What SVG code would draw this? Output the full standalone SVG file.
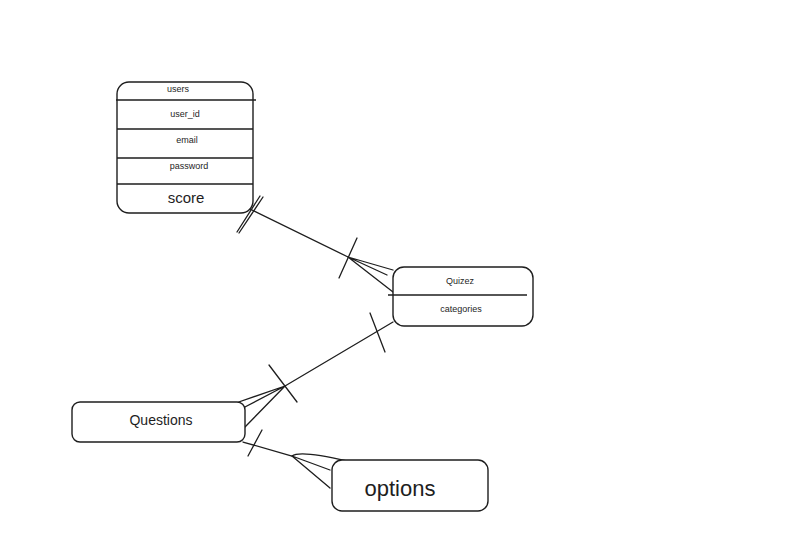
<svg xmlns="http://www.w3.org/2000/svg" width="803" height="544" viewBox="0 0 803 544">
  <defs>
    <style>
      .box { fill: #ffffff; stroke: #1e1e1e; stroke-width: 1.4; }
      .rule { stroke: #1e1e1e; stroke-width: 1.6; fill: none; }
      .edge { stroke: #1e1e1e; stroke-width: 1.3; fill: none; stroke-linecap: round; }
      .lbl { font-family: "Liberation Sans", Arial, sans-serif; fill: #1e1e1e; text-anchor: middle; dominant-baseline: central; }
      .sm { font-size: 9px; }
    </style>
  </defs>
  <rect width="803" height="544" fill="#ffffff"/>

  <!-- connectors -->
  <g id="connectors">
    <!-- users to Quizez -->
    <path class="edge" d="M250 209 L348 257"/>
    <path class="edge" d="M348 257 L393 270 M348 257 L387 275 M348 257 L393 292"/>
    <path class="edge" d="M263 197 L239 233 M260 196 L237 232"/>
    <path class="edge" d="M357 238 L339 278"/>
    <!-- Questions to Quizez -->
    <path class="edge" d="M393 322 L285 386"/>
    <path class="edge" d="M285 386 L233 404 M285 386 L243 408 M285 386 L245 427"/>
    <path class="edge" d="M370 313 L385 352"/>
    <path class="edge" d="M269 365 L297 402"/>
    <!-- Questions to options -->
    <path class="edge" d="M243 442 L292 456"/>
    <path class="edge" d="M262 430 L248 456"/>
    <path class="edge" d="M292 456 Q300 450 347 461 M292 456 L330 470 M292 456 L330 488"/>
  </g>

  <!-- users table -->
  <g id="users">
    <rect class="box" x="117" y="82" width="136" height="131" rx="12"/>
    <path class="rule" d="M116 100 L256 100 M117 129 L253 129 M117 158 L253 158 M117 184 L253 184"/>
    <text class="lbl sm" x="178" y="89">users</text>
    <text class="lbl sm" x="185" y="114">user_id</text>
    <text class="lbl sm" x="187" y="140">email</text>
    <text class="lbl sm" x="189" y="166">password</text>
    <text class="lbl" x="186" y="197" font-size="15">score</text>
  </g>

  <!-- Quizez table -->
  <g id="quizez">
    <rect class="box" x="393" y="267" width="140" height="59" rx="11"/>
    <path class="rule" d="M388 295 L527 295"/>
    <text class="lbl sm" x="460" y="281">Quizez</text>
    <text class="lbl sm" x="461" y="309">categories</text>
  </g>

  <!-- Questions -->
  <g id="questions">
    <rect class="box" x="72" y="402" width="173" height="40" rx="8"/>
    <text class="lbl" x="161" y="420" font-size="14">Questions</text>
  </g>

  <!-- options -->
  <g id="options">
    <rect class="box" x="332" y="460" width="156" height="51" rx="10"/>
    <text class="lbl" x="400" y="488" font-size="22">options</text>
  </g>
</svg>
